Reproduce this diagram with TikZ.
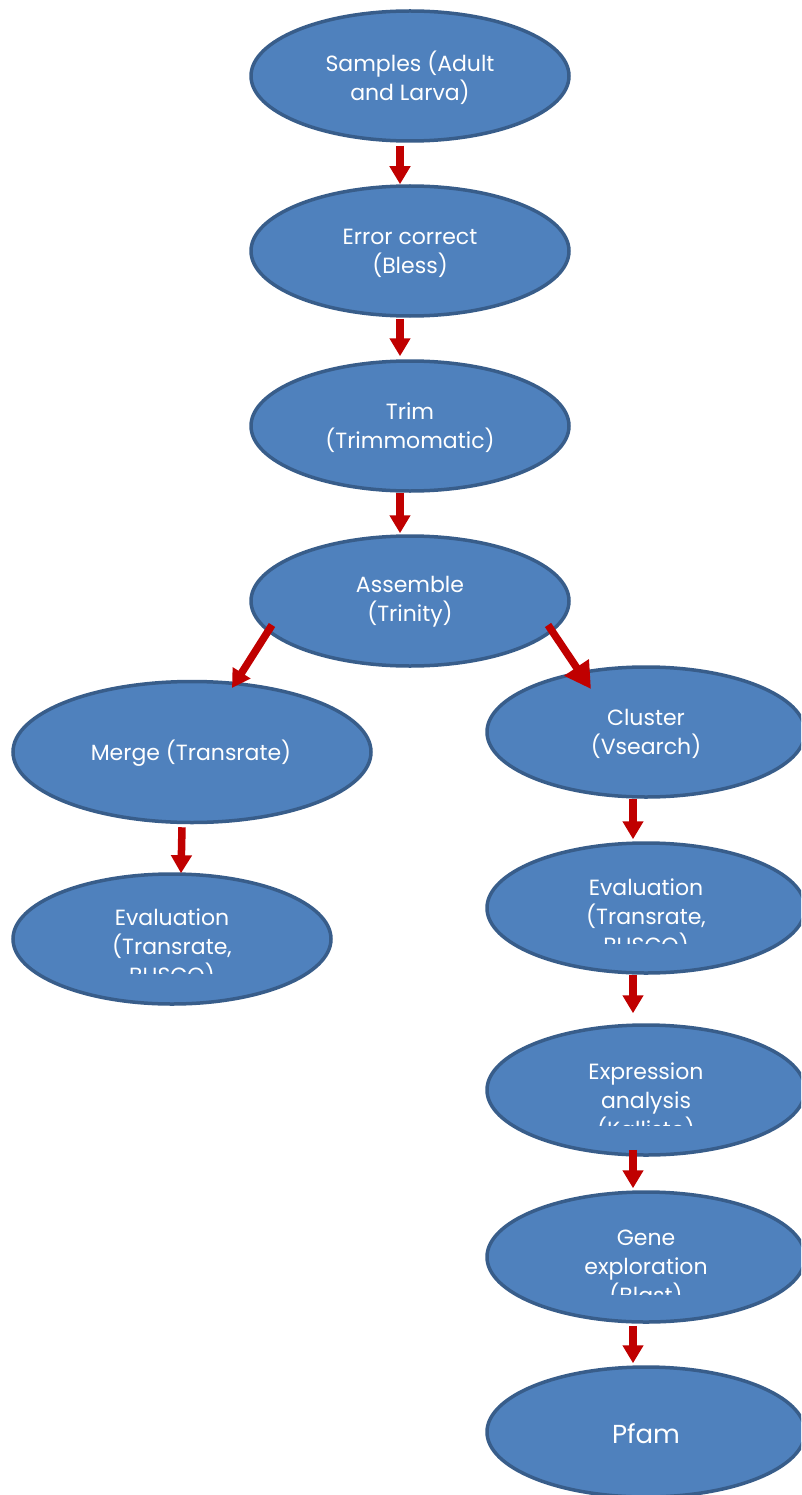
\documentclass[tikz,border=0pt]{standalone}
\usepackage{fontspec}
\setmainfont{Poppins}
\usetikzlibrary{shapes.geometric,arrows.meta}
\definecolor{nodefill}{HTML}{4F81BD}
\definecolor{nodeline}{HTML}{385D8A}
\definecolor{arrred}{HTML}{C00000}
\tikzset{
  oval/.style={ellipse, fill=nodefill, draw=nodeline, line width=3.5pt, inner sep=0pt,
    minimum width=318pt, minimum height=130pt},
  label/.style={text=white, align=center, font=\fontsize{22}{29}\selectfont, inner sep=0pt},
  arr/.style={draw=arrred, line width=7.5pt, -{Triangle[width=20pt,length=18pt]}},
  bigarr/.style={draw=arrred, line width=7.5pt, -{Triangle[width=28pt,length=26pt]}},
}
\begin{document}
\begin{tikzpicture}[x=1pt,y=-1pt]
\clip (0,0) rectangle (801,1495);
\fill[white] (0,0) rectangle (801,1495);
% nodes
\node[oval] (samples) at (410,76) {};
\node[label] (tsamples) at (410,78) {Samples (Adult\\and Larva)};
\node[oval] (error) at (410,251) {};
\node[label] (terror) at (410,253) {Error correct\\(Bless)};
\node[oval] (trim) at (410,426) {};
\node[label] (ttrim) at (410,428) {Trim\\(Trimmomatic)};
\node[oval] (assemble) at (410,601) {};
\node[label] (tassemble) at (410,602) {Assemble\\(Trinity)};
\node[oval, minimum width=358pt, minimum height=141pt] (merge) at (192,752) {};
\node[label] (tmerge) at (191,753) {Merge (Transrate)};
\node[oval] (evall) at (172,939) {};
\begin{scope}
  \clip (0,880) rectangle (340,973);
  \node[label] (tevall) at (172,948) {Evaluation\\(Transrate,\\BUSCO)};
\end{scope}
\node[oval] (cluster) at (646,732) {};
\node[label] (tcluster) at (646,734) {Cluster\\(Vsearch)};
\node[oval] (evalr) at (646,908) {};
\begin{scope}
  \clip (480,860) rectangle (801,943);
  \node[label] (tevalr) at (646,918) {Evaluation\\(Transrate,\\BUSCO)};
\end{scope}
\node[oval] (expr) at (646,1090) {};
\begin{scope}
  \clip (480,1040) rectangle (801,1125);
  \node[label] (texpr) at (646,1102) {Expression\\analysis\\(Kallisto)};
\end{scope}
\node[oval] (gene) at (646,1257) {};
\begin{scope}
  \clip (480,1200) rectangle (801,1294);
  \node[label] (tgene) at (646,1269) {Gene\\exploration\\(Blast)};
\end{scope}
\node[oval] (pfam) at (646,1432) {};
\node[label, font=\fontsize{26}{29}\selectfont] (tpfam) at (646,1434) {Pfam};
% arrows
\draw[arr] ([shift={(-10,3)}]samples.south) -- ([shift={(-10,0)}]error.north);
\draw[arr] ([shift={(-10,1)}]error.south) -- ([shift={(-10,-3)}]trim.north);
\draw[arr] ([shift={(-10,0)}]trim.south) -- ([shift={(-10,-1)}]assemble.north);
\draw[arr] ([shift={(-138,24)}]assemble.center) -- ([shift={(40,-64)}]merge.center);
\draw[bigarr] ([shift={(138,24)}]assemble.center) -- ([shift={(-55,-43)}]cluster.center);
\draw[arr] ([shift={(-10,3)}]merge.south) -- ([shift={(9,1)}]evall.north);
\draw[arr] ([shift={(-13,0)}]cluster.south) -- ([shift={(-13,-2)}]evalr.north);
\draw[arr] ([shift={(-13,0)}]evalr.south) -- ([shift={(-13,-10)}]expr.north);
\draw[arr] ([shift={(-13,-7)}]expr.south) -- ([shift={(-13,-2)}]gene.north);
\draw[arr] ([shift={(-13,2)}]gene.south) -- ([shift={(-13,-2)}]pfam.north);
\end{tikzpicture}
\end{document}
